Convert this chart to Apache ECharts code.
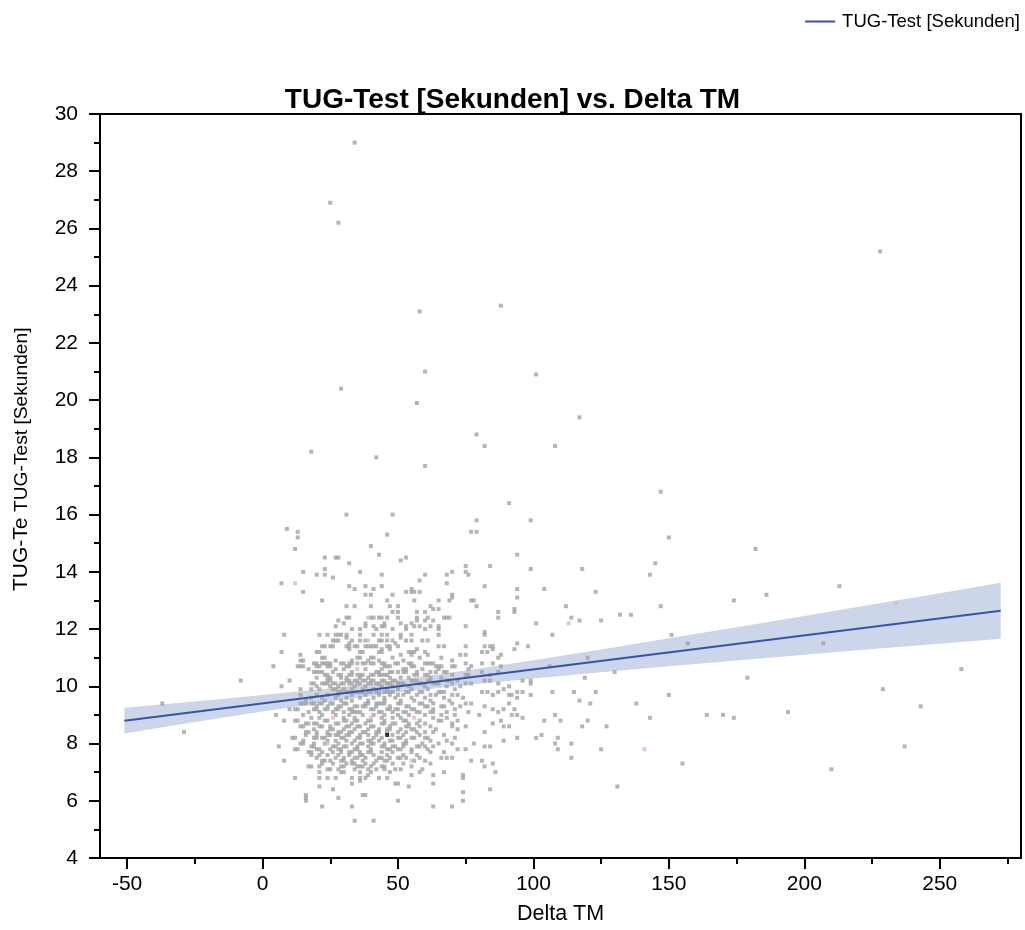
<!DOCTYPE html>
<html>
<head>
<meta charset="utf-8">
<script src="https://cdn.jsdelivr.net/npm/echarts@6/dist/echarts.min.js"></script>
<style>
html,body{margin:0;padding:0;background:#fff;}
#chart{width:1025px;height:930px;}
</style>
</head>
<body>
<div id="chart"></div>
<script>
// ---- Data ----
// Gray points: rows of [TUG-Test seconds, [Delta TM values]]
const grayRows = [
  [29.0,[34]],[26.9,[25]],[26.2,[28]],[25.2,[228]],[23.3,[88]],[23.1,[58]],
  [21.0,[60]],[20.9,[101]],[20.4,[29]],[19.9,[57]],[19.4,[117]],[18.8,[79]],
  [18.4,[82,108]],[18.2,[18]],[18.0,[42]],[17.7,[60]],[16.8,[147]],[16.4,[91]],
  [16.0,[31,48]],[15.8,[79,99]],[15.5,[9]],[15.4,[13,77,79]],[15.3,[46]],[15.2,[13,150]],
  [14.9,[40]],[14.8,[12,182]],[14.6,[43,94]],[14.5,[23,27,28,53]],[14.4,[51]],
  [14.3,[32,145]],[14.2,[75,84]],[14.1,[23,99,118]],[14.0,[15,36,70,75]],
  [13.9,[20,23,44,60,68,76,143]],[13.8,[26]],[13.7,[58]],[13.6,[7,68]],
  [13.5,[32,38,44,82,213]],[13.4,[34,41,55,94,104]],[13.3,[15,53,55,56,58,123]],
  [13.2,[38,40,48,70,186]],[13.1,[70,94]],[13.0,[22,46,56,65,69,77,78,174]],
  [12.8,[31,34,40,47,50,62,79,112,147]],[12.7,[63,65,93]],[12.6,[48,50,57,60,87,93]],
  [12.5,[132,136]],
  [12.4,[31,32,40,41,43,44,46,50,57,61,67,68,69,87,114]],
  [12.3,[28,57,60,63,117,125]],[12.2,[30,38,45,51,55,101]],
  [12.1,[27,38,41,44,45,53,56,58,62,65,75]],[12.0,[33,36,42,48,53,60,65]],[11.9,[82]],
  [11.8,[8,21,24,27,28,29,31,36,41,44,46,51,55,65,82,107,151]],[11.7,[31,51]],
  [11.6,[26,27,28,33,36,38,43,44,46,48,53,55,59,61]],[11.5,[32,49,94,157,207]],
  [11.4,[22,23,25,26,31,32,34,35,38,39,40,41,42,46,47,50,65,67,75,82,84,85,98]],
  [11.3,[32,44,47,57,85,93]],[11.2,[7,20,21,36,37,43,44,54,55,56,60,81,83]],
  [11.1,[14,51,55,61,73,75,88]],[11.0,[22,23,35,36,40,41,48,58,66,87,120]],
  [10.9,[14,15,27,33,39,43,52,70]],
  [10.8,[19,20,22,23,24,25,29,30,32,33,35,37,38,40,41,44,45,49,50,54,55,60,61,62,63,75,81,85]],
  [10.7,[4,13,14,15,20,21,24,25,31,32,45,46,47,55,56,64,65,66,70,71,77,88,106]],
  [10.6,[17,27,30,38,44,52,53,59,65,76,258]],
  [10.5,[19,20,21,22,26,33,42,43,47,48,50,52,53,57,62,64,67,68,81,87,130]],
  [10.4,[23,24,28,29,32,33,35,36,37,40,41,43,44,45,46,56,57,60,61,70,75,76,84]],
  [10.3,[20,24,25,29,31,36,39,47,51,54,62,66,119,179]],
  [10.2,[-8,10,24,25,31,32,34,35,37,38,40,41,44,45,48,49,55,56,57,61,62,68,69,72,82,84,96,99]],
  [10.1,[18,19,22,23,24,26,27,29,30,32,33,35,36,39,40,42,43,46,47,50,51,52,58,59,63,64,65,70,75,77,87,99]],
  [10.0,[7,20,25,28,34,38,44,48,54,60,68,73,91]],
  [9.9,[14,18,21,26,27,30,33,37,41,46,50,55,61,71,89,229]],
  [9.8,[28,29,31,32,34,35,36,37,39,40,42,43,45,46,47,48,53,54,58,59,65,66,67,81,83,87,94,96,107,115,123]],
  [9.7,[14,20,24,28,33,38,43,47,50,52,57,62,64,70,72,85,91,92,99,150]],
  [9.6,[18,22,27,31,36,41,45,49,55,60,67,74,94]],
  [9.5,[16,23,29,33,39,45,51,56,62,69,117]],
  [9.4,[-37,14,15,16,18,19,21,22,25,26,30,31,38,39,42,43,44,45,50,51,58,59,63,70,75,77,91,121,138]],
  [9.3,[20,24,28,29,34,35,37,38,42,47,53,54,60,61,66,67,73,82,243]],
  [9.2,[10,12,13,19,20,23,24,27,28,32,33,40,41,46,47,49,50,55,56,63,71,85,89,93]],
  [9.1,[17,21,26,30,33,34,35,36,43,44,48,52,53,57,58,62,63,68,76,87,194]],
  [9.0,[5,15,22,27,32,37,41,45,50,54,60,66,71,80,92,94,108,164,170]],
  [8.9,[18,21,30,34,44,48,51,63,68,96,143,174]],
  [8.8,[8,12,13,23,24,30,31,34,35,39,40,45,52,53,58,65,66,72,88,104,110,120]],
  [8.7,[16,17,19,20,27,28,33,38,44,45,48,49,54,57,60,70,85]],
  [8.6,[14,15,21,22,25,31,32,35,36,40,41,47,53,54,58,62,70,75,89,91,118,127]],
  [8.5,[19,25,26,30,34,39,43,46,47,51,55,56,64,72]],
  [8.4,[-29,16,17,20,24,28,29,32,33,37,38,42,43,46,50,53,57,60,63,82]],
  [8.3,[16,20,24,25,27,28,31,32,36,39,42,48,52,58,67,103]],
  [8.2,[11,12,19,20,22,23,29,30,35,36,41,44,50,51,55,56,60,61,71,94,101,109]],
  [8.1,[15,24,27,31,34,39,40,43,47,48,53,62,68,89]],
  [8.0,[14,15,19,23,28,33,36,37,40,41,45,52,53,59,65,70,78,108,114]],
  [7.9,[6,18,19,26,27,30,31,35,39,44,45,48,49,52,57,58,60,63,82,84,237]],
  [7.8,[12,13,20,21,25,28,29,34,35,40,46,47,50,51,55,61,72,75,109,125]],
  [7.7,[17,18,22,26,29,32,33,36,39,40,44,48,55,62,67]],
  [7.6,[18,21,24,28,32,36,37,41,46,52,57]],
  [7.5,[20,27,30,34,35,38,43,44,47,50,51,53,58,66,68,70,114]],
  [7.4,[8,22,23,25,29,30,33,37,42,45,46,56,60,77,81]],
  [7.3,[22,26,31,33,34,38,41,48,52,62,85,155]],
  [7.2,[17,18,21,29,30,35,36,37,40,44,45,55,82]],
  [7.1,[24,25,28,34,39,42,45,49,51,59,210]],
  [7.0,[21,29,30,36,40,47,58,67,86]],
  [6.9,[39,55,63,74]],[6.8,[12,21,24,27,33,36,38,43,46,74]],[6.7,[36]],
  [6.6,[33,49,50,63]],[6.5,[21,54,131]],[6.4,[26,84]],[6.3,[74]],
  [6.2,[16,37,38]],[6.1,[16,28]],[6.0,[16,50,74]],[5.8,[22,33,63,70]],[5.3,[34,41]]
];
// Pink (highlighted) points
const pinkRows = [
  [13.6,[12]],[12.9,[234]],[12.4,[39]],[12.2,[113]],[11.6,[39]],[10.6,[35]],
  [8.9,[26,40,56]],[8.0,[24]],[7.8,[141]],[7.4,[55]]
];
// Black point
const blackPoint = [46, 8.3];

// Linear fit and confidence band
const fitX = [-51, 272.5];
const fitY = [8.80, 12.64];
const bandX     = [-51, -25, 0, 25, 50, 75, 100, 125, 150, 175, 200, 225, 250, 272.5];
const bandUpper = [9.25, 9.47, 9.70, 9.93, 10.22, 10.55, 10.91, 11.29, 11.68, 12.06, 12.46, 12.86, 13.25, 13.62];
const bandLower = [8.35, 8.75, 9.12, 9.47, 9.78, 10.05, 10.27, 10.49, 10.70, 10.90, 11.10, 11.30, 11.49, 11.66];

// Axis ticks
const xMajorTicks = [-50, 0, 50, 100, 150, 200, 250];
const xMinorTicks = [-25, 25, 75, 125, 175, 225, 275];

const seriesName = 'TUG-Test [Sekunden]';
const yTitleClipped = 'TUG-Te';
const titleText = 'TUG-Test [Sekunden] vs. Delta TM';
const xName = 'Delta TM';

// ---- Build ----
function flatten(rows) {
  const out = [];
  rows.forEach(r => r[1].forEach(x => out.push([x, r[0]])));
  return out;
}
const FONT = "'Liberation Sans', Arial, Helvetica, sans-serif";
const chart = echarts.init(document.getElementById('chart'), null, {renderer: 'canvas'});

const option = {
  animation: false,
  backgroundColor: '#ffffff',
  textStyle: {fontFamily: FONT},
  title: {
    text: titleText, left: 'center', top: 81,
    textStyle: {fontFamily: FONT, fontSize: 28, fontWeight: 'bold', color: '#000'}
  },
  legend: {
    data: [seriesName], right: 0, top: 7,
    icon: 'rect', itemWidth: 30, itemHeight: 2, itemGap: 10,
    textStyle: {fontFamily: FONT, fontSize: 18.5, color: '#000', padding: [0, 0, 0, 2]}
  },
  grid: {left: 100, right: 4, top: 114, bottom: 71, show: true, borderColor: '#000', borderWidth: 2, containLabel: false},
  xAxis: [{
    type: 'value', min: -60, max: 280, position: 'bottom',
    name: xName, nameLocation: 'middle', nameGap: 45,
    nameTextStyle: {fontFamily: FONT, fontSize: 21.5, color: '#000'},
    axisLine: {show: true, onZero: false, lineStyle: {color: '#000', width: 2}},
    axisTick: {show: true, length: 11, customValues: xMajorTicks, lineStyle: {color: '#000', width: 2}},
    axisLabel: {customValues: xMajorTicks, fontFamily: FONT, fontSize: 21, color: '#000', margin: 16},
    splitLine: {show: false}
  }, {
    type: 'value', min: -60, max: 280, position: 'bottom',
    axisLine: {show: false, onZero: false},
    axisTick: {show: true, length: 6, customValues: xMinorTicks, lineStyle: {color: '#000', width: 2}},
    axisLabel: {show: false},
    splitLine: {show: false}
  }],
  yAxis: {
    type: 'value', min: 4, max: 30, interval: 2,
    axisLine: {show: true, onZero: false, lineStyle: {color: '#000', width: 2}},
    axisTick: {show: true, length: 11, lineStyle: {color: '#000', width: 2}},
    minorTick: {show: true, splitNumber: 2, length: 6, lineStyle: {color: '#000', width: 2}},
    axisLabel: {fontFamily: FONT, fontSize: 21, color: '#000', margin: 22},
    splitLine: {show: false}
  },
  graphic: [
    {type: 'text', x: 21, y: 591, rotation: Math.PI / 2, z: 10,
     style: {text: yTitleClipped, font: '21px ' + FONT, fill: '#000', align: 'left', verticalAlign: 'middle'}},
    {type: 'text', x: 21.5, y: 512, rotation: Math.PI / 2, z: 11,
     style: {text: seriesName, font: '19.2px ' + FONT, fill: '#000', align: 'left', verticalAlign: 'middle'}}
  ],
  series: [
    {
      type: 'custom', name: 'band', silent: true, z: 1, xAxisIndex: 0,
      data: [[bandX[0], bandLower[0]]],
      renderItem: function (params, api) {
        const pts = [];
        for (let i = 0; i < bandX.length; i++) pts.push(api.coord([bandX[i], bandUpper[i]]));
        for (let i = bandX.length - 1; i >= 0; i--) pts.push(api.coord([bandX[i], bandLower[i]]));
        return {type: 'polygon', shape: {points: pts}, style: {fill: 'rgb(204,213,233)', stroke: null}};
      }
    },
    {
      type: 'scatter', name: 'points', z: 2, xAxisIndex: 0,
      symbol: 'rect', symbolSize: 4,
      itemStyle: {color: '#a3a3a3'},
      data: flatten(grayRows), silent: true
    },
    {
      type: 'scatter', name: 'pink', z: 2, xAxisIndex: 0,
      symbol: 'rect', symbolSize: 4,
      itemStyle: {color: '#e2b6ba'},
      data: flatten(pinkRows), silent: true
    },
    {
      type: 'scatter', name: 'black', z: 3, xAxisIndex: 0,
      symbol: 'rect', symbolSize: 4,
      itemStyle: {color: '#000'},
      data: [blackPoint], silent: true
    },
    {
      type: 'line', name: seriesName, z: 4, xAxisIndex: 0,
      showSymbol: false, symbol: 'none',
      lineStyle: {color: '#3454a8', width: 2},
      itemStyle: {color: '#3454a8'},
      data: fitX.map((x, i) => [x, fitY[i]])
    }
  ]
};
chart.setOption(option);
</script>
</body>
</html>
